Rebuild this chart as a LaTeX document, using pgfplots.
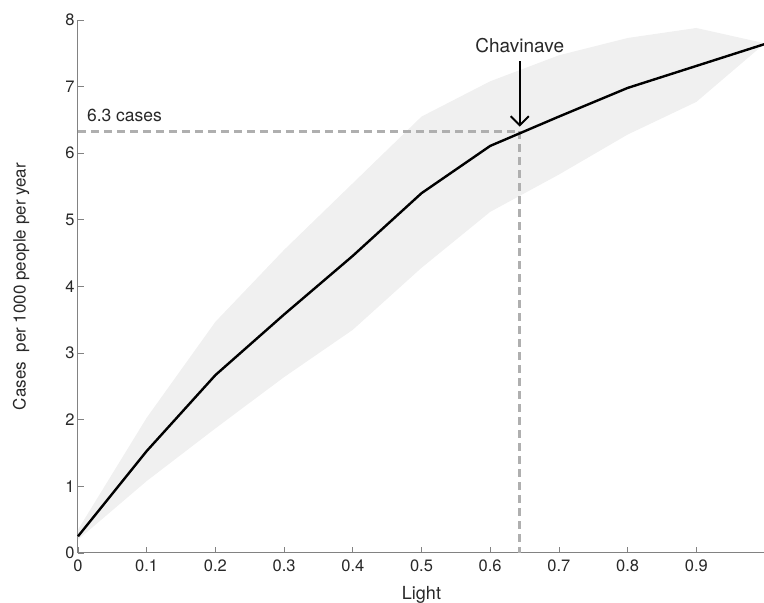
\documentclass[border=0pt]{standalone}
\usepackage{pgfplots}
\pgfplotsset{compat=1.18}
\usepackage{fontspec}
\setmainfont{TeX Gyre Heros}
\usetikzlibrary{arrows.meta}
\definecolor{bandgray}{RGB}{240,240,240}
\definecolor{dashgray}{RGB}{175,175,175}
\definecolor{axgray}{RGB}{130,130,130}
\definecolor{txt}{RGB}{40,40,40}
\begin{document}
\begin{tikzpicture}
\begin{axis}[
  name=ax,
  scale only axis,
  width=687pt, height=533pt,
  xmin=0, xmax=1, ymin=0, ymax=8,
  axis x line=bottom, axis y line=left,
  axis line style={axgray, line width=1pt, -},
  tick style={axgray, line width=0.8pt},
  major tick length=6pt,
  tick align=inside,
  xtick={0,0.1,0.2,0.3,0.4,0.5,0.6,0.7,0.8,0.9,1},
  xticklabels={0,0.1,0.2,0.3,0.4,0.5,0.6,0.7,0.8,0.9,},
  ytick={0,1,2,3,4,5,6,7,8},
  /pgf/number format/assume math mode=true,
  ticklabel style={font=\fontsize{16.5}{19}\selectfont, text=txt},
  xticklabel style={yshift=-3pt},
  yticklabel style={xshift=0pt},
  xlabel={Light},
  ylabel={Cases\ \ per 1000 people per year},
  xlabel style={font=\fontsize{18}{21}\selectfont, text=txt, yshift=-8pt},
  ylabel style={font=\fontsize{17}{20}\selectfont, text=txt, yshift=29pt},
  clip=false,
]
\addplot[fill=bandgray, draw=none] coordinates {
 (0,0.35)(0.1,2.03)(0.2,3.47)(0.3,4.55)(0.4,5.55)(0.5,6.55)(0.6,7.08)(0.7,7.47)(0.8,7.73)(0.9,7.88)(1,7.65)
 (0.9,6.77)(0.8,6.28)(0.7,5.68)(0.6,5.12)(0.5,4.28)(0.4,3.35)(0.3,2.64)(0.2,1.87)(0.1,1.08)(0,0.2)
} -- cycle;
\addplot[dashgray, line width=3pt, dash pattern=on 8pt off 5pt] coordinates {(0,6.33)(0.643,6.33)};
\addplot[dashgray, line width=3pt, dash pattern=on 8pt off 5pt] coordinates {(0.643,6.33)(0.643,0)};
\addplot[black, line width=2.4pt] coordinates {
 (0,0.25)(0.1,1.53)(0.2,2.67)(0.3,3.58)(0.4,4.46)(0.5,5.4)(0.6,6.11)(0.7,6.55)(0.8,6.98)(0.9,7.31)(1,7.64)
};
\draw[black, line width=2pt, -{Straight Barb[length=9pt, width=18pt, line width=2pt]}] (axis cs:0.643,7.38) -- (axis cs:0.643,6.4);
\node[text=txt, font=\fontsize{19}{22}\selectfont] at (axis cs:0.643,7.62) {Chavinave};
\node[text=txt, anchor=base west, font=\fontsize{17.5}{20}\selectfont] at (axis cs:0.008,6.48) {6.3 cases};
\end{axis}
\pgfresetboundingbox
\path ([xshift=-78pt,yshift=-50pt]ax.south west) rectangle ([xshift=-1pt,yshift=20pt]ax.north east);
\end{tikzpicture}
\end{document}
